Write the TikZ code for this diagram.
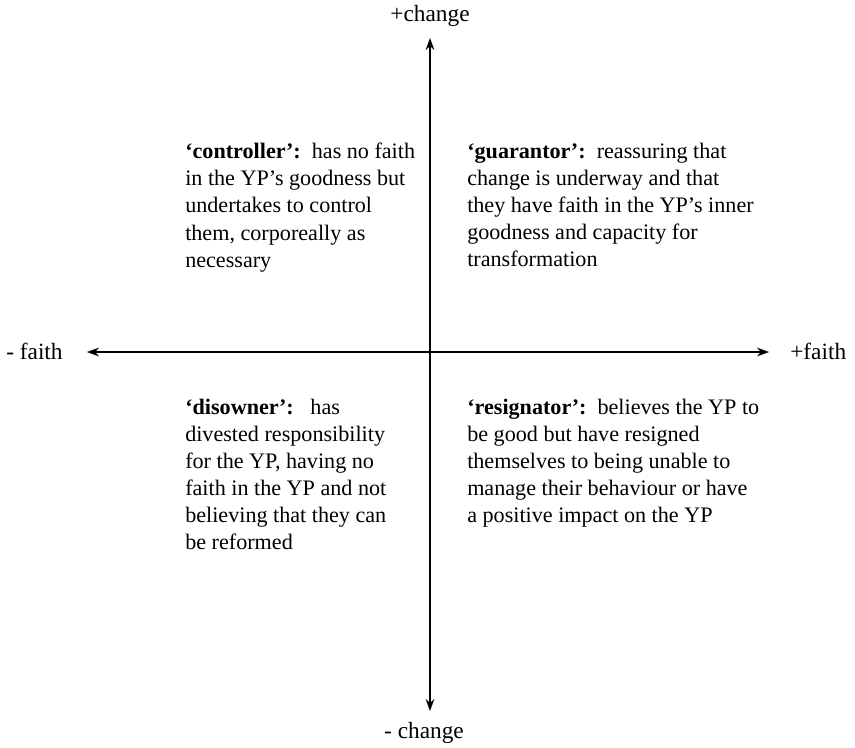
\documentclass[tikz,border=0pt]{standalone}
\usepackage{fontspec}
\setmainfont{Liberation Serif}
\usetikzlibrary{arrows.meta}
\begin{document}
\begin{tikzpicture}[x=0.75pt,y=-0.75pt,
  axis/.style={line width=1.1pt,-{Stealth[length=9pt,width=6.5pt]}},
  axlabel/.style={font=\fontsize{17.5}{20}\selectfont,inner sep=0pt},
  quad/.style={font=\fontsize{16.6}{20.3}\selectfont,align=left,anchor=north west,inner sep=0pt}]
\useasboundingbox (0,0) rectangle (855,747);
% axes
\coordinate (o) at (430,352);
\coordinate (top) at (430,38);
\coordinate (bot) at (430,711);
\coordinate (lft) at (87,352);
\coordinate (rgt) at (769,352);
\draw[axis] (o) -- (top);
\draw[axis] (o) -- (bot);
\draw[axis] (o) -- (lft);
\draw[axis] (o) -- (rgt);
% axis labels
\node[axlabel] (pc) at (430,16) {+change};
\node[axlabel] (mc) at (424,733) {-\ change};
\node[axlabel,anchor=west] (mf) at (6,351) {-\ faith};
\node[axlabel,anchor=west] (pf) at (790,351) {+faith};
% quadrant descriptions
\node[quad] (ctrl) at (185,143) {\textbf{‘controller’:}\ \ has no faith\\in the YP’s goodness but\\undertakes to control\\them, corporeally as\\necessary};
\node[quad] (guar) at (467,143) {\textbf{‘guarantor’:}\ \ reassuring that\\change is underway and that\\they have faith in the YP’s inner\\goodness and capacity for\\transformation};
\node[quad] (disown) at (185,399) {\textbf{‘disowner’:}\ \ \ has\\divested responsibility\\for the YP, having no\\faith in the YP and not\\believing that they can\\be reformed};
\node[quad] (resig) at (467,399) {\textbf{‘resignator’:}\ \ believes the YP to\\be good but have resigned\\themselves to being unable to\\manage their behaviour or have\\a positive impact on the YP};
\end{tikzpicture}
\end{document}
